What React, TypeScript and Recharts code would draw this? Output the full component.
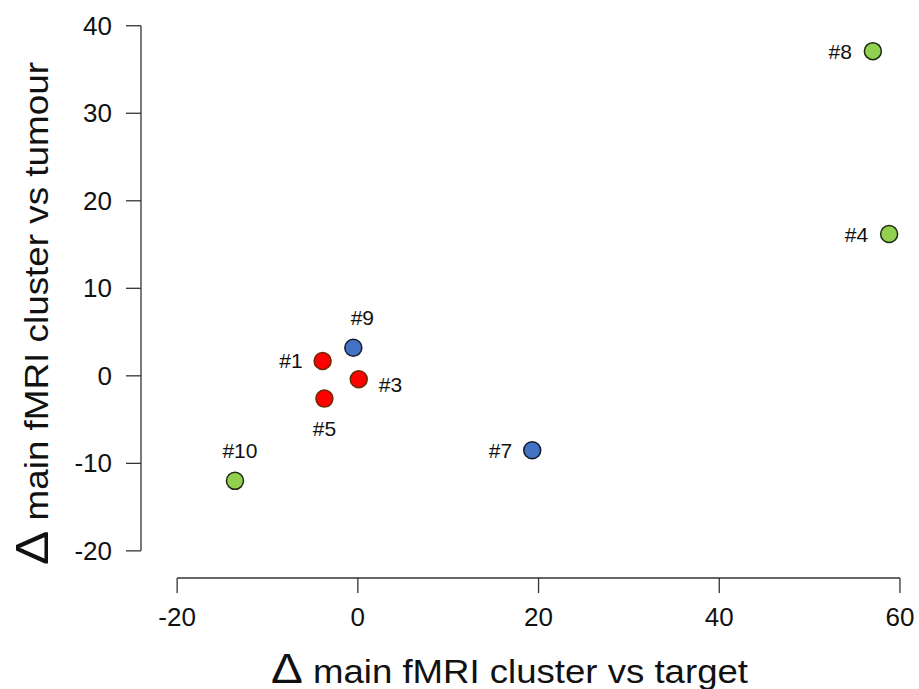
import { ScatterChart, Scatter, XAxis, YAxis, ReferenceLine, LabelList } from "recharts";

// cases, grouped by colour
const greenNames = ["#8", "#4", "#10"];
const greenX = [57.0, 58.8, -13.6];
const greenY = [37.1, 16.2, -12.0];

const redNames = ["#1", "#3", "#5"];
const redX = [-3.9, 0.1, -3.7];
const redY = [1.7, -0.4, -2.6];

const blueNames = ["#9", "#7"];
const blueX = [-0.5, 19.3];
const blueY = [3.2, -8.5];

const xTicks = [-20, 0, 20, 40, 60];
const yTicks = [-20, -10, 0, 10, 20, 30, 40];

const xTitle = "main fMRI cluster vs target";
const yTitle = "main fMRI cluster vs tumour";

// where each label sits relative to its point: [dx, dy, anchor]
const labelPos: Record<string, [number, number, string]> = {
  "#8": [-21, 0, "end"],
  "#4": [-21, 0, "end"],
  "#10": [5, -30, "middle"],
  "#1": [-20, 0, "end"],
  "#3": [20, 5, "start"],
  "#5": [0, 30, "middle"],
  "#9": [9, -30, "middle"],
  "#7": [-20, 0, "end"],
};

const toRows = (names: string[], xs: number[], ys: number[]) =>
  names.map((n, i) => ({ name: n, x: xs[i], y: ys[i] }));

const FONT = "'Liberation Sans', Arial, sans-serif";
const XMIN = -24;
const YMIN = -23.1;

const dot = (fill: string, stroke: string) => (p: any) =>
  <circle cx={p.cx} cy={p.cy} r={8.5} fill={fill} stroke={stroke} strokeWidth={1.5} />;

const pointLabel = (p: any) => {
  const pos = labelPos[p.value] ?? [0, -20, "middle"];
  return (
    <text
      x={p.x + p.width / 2 + pos[0]}
      y={p.y + p.height / 2 + pos[1]}
      textAnchor={pos[2] as any}
      dominantBaseline="central"
      fontSize={21}
      fontFamily={FONT}
      fill="#111"
    >
      {p.value}
    </text>
  );
};

const XTick = (p: any) => (
  <g>
    <line x1={p.x} x2={p.x} y1={p.y} y2={p.y + 15} stroke="#333" strokeWidth={1.3} />
    <text x={p.x} y={p.y + 48} textAnchor="middle" fontSize={26} fontFamily={FONT} fill="#111">
      {p.payload.value}
    </text>
  </g>
);

const YTick = (p: any) => (
  <g>
    <line x1={p.x - 15} x2={p.x} y1={p.y} y2={p.y} stroke="#333" strokeWidth={1.3} />
    <text x={p.x - 29} y={p.y} textAnchor="end" dominantBaseline="central" fontSize={26} fontFamily={FONT} fill="#111">
      {p.payload.value}
    </text>
  </g>
);

export default function App() {
  return (
    <div style={{ position: "absolute", left: 0, top: 0, background: "#fff" }}>
      <ScatterChart width={919} height={689} margin={{ top: 17, right: 10, left: 0, bottom: 0 }}>
        <XAxis
          type="number"
          dataKey="x"
          domain={[XMIN, 61]}
          ticks={xTicks}
          allowDataOverflow
          axisLine={false}
          tickLine={false}
          tickSize={0}
          tickMargin={0}
          height={111}
          tick={<XTick />}
          label={{
            content: () => (
              <text
                x={271}
                y={683}
                textLength={477}
                lengthAdjust="spacingAndGlyphs"
                fontSize={33}
                fontFamily={FONT}
                fill="#111"
              >
                <tspan fontSize={43}>{"Δ"}</tspan>
                {"  " + xTitle}
              </text>
            ),
          }}
        />
        <YAxis
          type="number"
          dataKey="y"
          domain={[YMIN, 41]}
          ticks={yTicks}
          allowDataOverflow
          axisLine={false}
          tickLine={false}
          tickSize={0}
          tickMargin={0}
          width={141}
          tick={<YTick />}
          label={{
            content: () => (
              <text
                x={0}
                y={0}
                transform="translate(48 565) rotate(-90)"
                textLength={503}
                lengthAdjust="spacingAndGlyphs"
                fontSize={33}
                fontFamily={FONT}
                fill="#111"
              >
                <tspan fontSize={46}>{"Δ"}</tspan>
                {"  " + yTitle}
              </text>
            ),
          }}
        />
        <ReferenceLine
          segment={[{ x: XMIN, y: -20 }, { x: XMIN, y: 40 }]}
          stroke="#333"
          strokeWidth={1.3}
          ifOverflow="visible"
        />
        <ReferenceLine
          segment={[{ x: -20, y: YMIN }, { x: 60, y: YMIN }]}
          stroke="#333"
          strokeWidth={1.3}
          ifOverflow="visible"
        />
        <Scatter data={toRows(greenNames, greenX, greenY)} shape={dot("#92d050", "#1f2a12")} isAnimationActive={false}>
          <LabelList dataKey="name" content={pointLabel} />
        </Scatter>
        <Scatter data={toRows(redNames, redX, redY)} shape={dot("#ff0000", "#6b2a00")} isAnimationActive={false}>
          <LabelList dataKey="name" content={pointLabel} />
        </Scatter>
        <Scatter data={toRows(blueNames, blueX, blueY)} shape={dot("#4472c4", "#141a2a")} isAnimationActive={false}>
          <LabelList dataKey="name" content={pointLabel} />
        </Scatter>
      </ScatterChart>
    </div>
  );
}
